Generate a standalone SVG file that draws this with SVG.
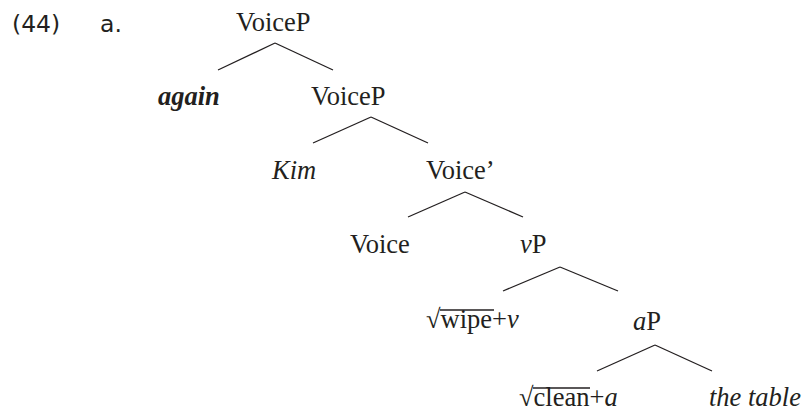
<svg xmlns="http://www.w3.org/2000/svg" width="803" height="411" viewBox="0 0 803 411">
<style>
text{font-family:"Liberation Serif","Times New Roman",serif;font-size:26.5px;fill:#231f20}
.i{font-style:italic}
.bi{font-style:italic;font-weight:bold}
.num{font-family:"DejaVu Sans","Noto Sans",sans-serif;font-size:23.5px}
.e line{stroke:#231f20;stroke-width:1.3;fill:none}
.bar{stroke:#231f20;stroke-width:1.5}
</style>
<rect width="803" height="411" fill="#fff"/>
<g id="label"><text class="num" x="12" y="32">(44)</text><text class="num" x="100" y="32">a.</text></g>
<g id="n1"><text x="236" y="31">VoiceP</text></g>
<g id="n2"><text class="bi" x="158" y="105">again</text></g>
<g id="n3"><text x="311" y="105">VoiceP</text></g>
<g id="n4"><text class="i" x="272" y="179">Kim</text></g>
<g id="n5"><text x="426" y="179">Voice’</text></g>
<g id="n6"><text x="350" y="253">Voice</text></g>
<g id="n7"><text x="520" y="253"><tspan class="i">v</tspan>P</text></g>
<g id="n8"><text x="426" y="328">√<tspan>wipe</tspan>+<tspan class="i">v</tspan></text><line class="bar" x1="440" y1="310" x2="494" y2="310"/></g>
<g id="n9"><text x="633" y="330"><tspan class="i">a</tspan>P</text></g>
<g id="n10"><text x="519" y="406">√<tspan>clean</tspan>+<tspan class="i">a</tspan></text><line class="bar" x1="533" y1="388" x2="590" y2="388"/></g>
<g id="n11"><text class="i" x="709" y="406">the table</text></g>
<g class="e" id="edges">
<line x1="275" y1="43" x2="218" y2="70"/><line x1="275" y1="43" x2="333" y2="70"/>
<line x1="371" y1="117" x2="313" y2="143"/><line x1="371" y1="117" x2="428" y2="143"/>
<line x1="465" y1="192" x2="408" y2="217"/><line x1="465" y1="192" x2="523" y2="217"/>
<line x1="560" y1="267" x2="503" y2="291"/><line x1="560" y1="267" x2="618" y2="291"/>
<line x1="655" y1="345" x2="597" y2="371"/><line x1="655" y1="345" x2="712" y2="371"/>
</g>
</svg>
